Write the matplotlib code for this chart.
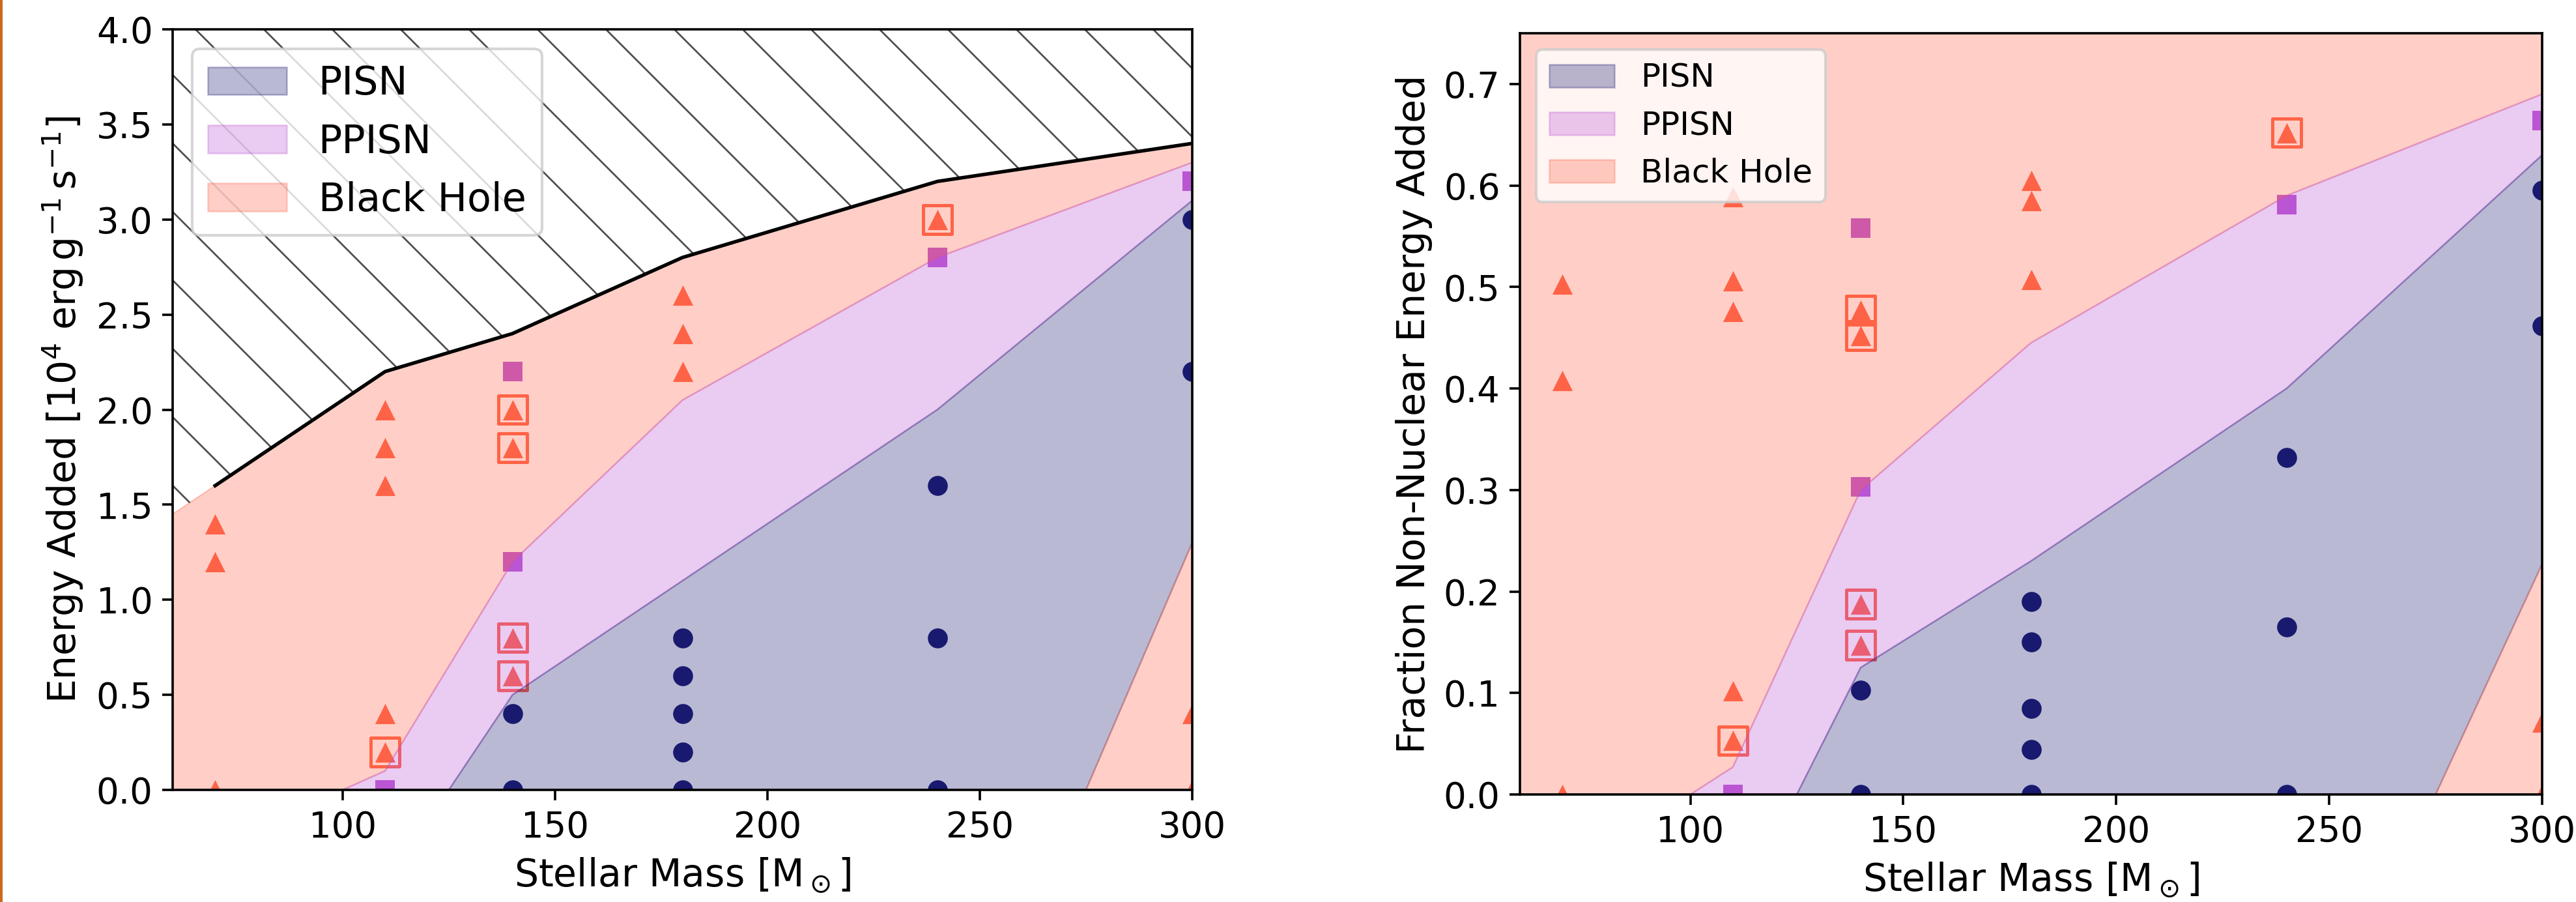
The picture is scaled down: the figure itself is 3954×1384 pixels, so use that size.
"""Energy-injection outcome map: PISN / PPISN / black hole regions."""

import matplotlib

matplotlib.use("Agg")
import matplotlib.pyplot as plt
from matplotlib.collections import LineCollection
from matplotlib.patches import Polygon, Rectangle
from matplotlib.ticker import MultipleLocator

# ---------------------------------------------------------------- data
# left panel: energy added [1e4 erg g^-1 s^-1]
bh_mass_e = [70, 70, 70, 110, 110, 110, 110, 110, 140, 140, 140, 140,
             180, 180, 180, 240, 300, 300]
bh_energy = [0.0, 1.2, 1.4, 0.2, 0.4, 1.6, 1.8, 2.0, 0.6, 0.8, 1.8, 2.0,
             2.2, 2.4, 2.6, 3.0, 0.0, 0.4]
ppisn_mass_e = [110, 140, 140, 240, 300]
ppisn_energy = [0.0, 1.2, 2.2, 2.8, 3.2]
pisn_mass_e = [140, 140, 180, 180, 180, 180, 180, 240, 240, 240, 300, 300]
pisn_energy = [0.0, 0.4, 0.0, 0.2, 0.4, 0.6, 0.8, 0.0, 0.8, 1.6, 2.2, 3.0]
boxed_mass_e = [110, 140, 140, 140, 140, 240]
boxed_energy = [0.2, 0.6, 0.8, 1.8, 2.0, 3.0]

# left panel region boundaries
limit_mass_e = [60, 70, 110, 140, 180, 240, 300]
limit_energy = [1.45, 1.6, 2.2, 2.4, 2.8, 3.2, 3.4]
ppisn_top_mass_e = [100, 110, 140, 180, 240, 300]
ppisn_top_energy = [0.0, 0.1, 1.2, 2.05, 2.8, 3.3]
pisn_top_mass_e = [125, 140, 180, 240, 300]
pisn_top_energy = [0.0, 0.5, 1.1, 2.0, 3.1]
pisn_edge_mass_e = [275, 300]
pisn_edge_energy = [0.0, 1.3]

# right panel: fraction of non-nuclear energy added
bh_mass_f = [70, 70, 70, 110, 110, 110, 110, 110, 140, 140, 140, 140,
             180, 180, 180, 240, 300, 300]
bh_frac = [0.0, 0.408, 0.503, 0.053, 0.102, 0.476, 0.506, 0.589, 0.147, 0.1875,
           0.452, 0.477, 0.507, 0.585, 0.605, 0.652, 0.0, 0.071]
ppisn_mass_f = [110, 140, 140, 240, 300]
ppisn_frac = [0.0, 0.303, 0.558, 0.581, 0.664]
pisn_mass_f = [140, 140, 180, 180, 180, 180, 180, 240, 240, 240, 300, 300]
pisn_frac = [0.0, 0.103, 0.0, 0.044, 0.085, 0.150, 0.190, 0.0, 0.165, 0.332,
             0.462, 0.595]
boxed_mass_f = [110, 140, 140, 140, 140, 240]
boxed_frac = [0.053, 0.147, 0.1875, 0.452, 0.477, 0.652]

# right panel region boundaries
limit_mass_f = [60, 300]
limit_frac = [1.0, 1.0]
ppisn_top_mass_f = [100, 110, 140, 180, 240, 300]
ppisn_top_frac = [0.0, 0.027, 0.30, 0.445, 0.59, 0.69]
pisn_top_mass_f = [125, 140, 180, 240, 300]
pisn_top_frac = [0.0, 0.125, 0.23, 0.40, 0.63]
pisn_edge_mass_f = [275, 300]
pisn_edge_frac = [0.0, 0.227]

# ---------------------------------------------------------------- style
DPI = 300
FIG_W, FIG_H = 3954 / DPI, 1384 / DPI
C_BH = "tomato"
C_PPISN = "mediumorchid"
C_PISN = "midnightblue"
TICK_FS = 13.1
LABEL_FS = 14.0

plt.rcParams.update({
    "font.family": "DejaVu Sans",
    "axes.linewidth": 0.87,
    "xtick.major.size": 3.8,
    "ytick.major.size": 3.8,
    "xtick.major.width": 0.87,
    "ytick.major.width": 0.87,
    "xtick.labelsize": TICK_FS,
    "ytick.labelsize": TICK_FS,
})


def draw_panel(ax, pts, bounds, legend_fs):
    bh_x, bh_y, pp_x, pp_y, pi_x, pi_y, bx_x, bx_y = pts
    lim_x, lim_y, ppt_x, ppt_y, pit_x, pit_y, pie_x, pie_y = bounds

    # markers first so the translucent regions tint them
    ax.scatter(bh_x, bh_y, marker="^", s=56, color=C_BH, linewidths=0)
    ax.scatter(pp_x, pp_y, marker="s", s=50, color=C_PPISN, linewidths=0)
    ax.scatter(pi_x, pi_y, marker="o", s=54, color=C_PISN, linewidths=0)
    ax.scatter(bx_x, bx_y, marker="s", s=110, facecolors="none",
               edgecolors=C_BH, linewidths=1.2)

    # black-hole region: between upper limit and PPISN boundary
    bh_xs = list(lim_x) + ppt_x[::-1] + [lim_x[0]]
    bh_ys = list(lim_y) + ppt_y[::-1] + [0.0]
    pp_xs = ppt_x + pit_x[::-1]
    pp_ys = ppt_y + pit_y[::-1]
    pi_xs = pit_x + pie_x[::-1]
    pi_ys = pit_y + pie_y[::-1]
    low_xs = pie_x + [pie_x[-1]]
    low_ys = pie_y + [0.0]

    kw = dict(alpha=0.3, linewidth=0.6)
    (bh_poly,) = ax.fill(bh_xs, bh_ys, color=C_BH, label="Black Hole", **kw)
    (pp_poly,) = ax.fill(pp_xs, pp_ys, color=C_PPISN, label="PPISN", **kw)
    (pi_poly,) = ax.fill(pi_xs, pi_ys, color=C_PISN, label="PISN", **kw)
    ax.fill(low_xs, low_ys, color=C_BH, **kw)

    ax.set_xlim(60, 300)
    ax.xaxis.set_major_locator(MultipleLocator(50))
    ax.set_xlabel(r"Stellar Mass [M$_\odot$]", fontsize=LABEL_FS)
    ax.legend(handles=[pi_poly, pp_poly, bh_poly], loc="upper left",
              fontsize=legend_fs)


def add_hatch(ax, xs, ys, ytop, width_px, height_px):
    """Diagonal hatch above the energy limit, drawn as clipped lines."""
    verts = list(zip(xs, ys)) + [(xs[-1], ytop), (xs[0], ytop)]
    patch = Polygon(verts, closed=True, facecolor="none", edgecolor="none")
    ax.add_patch(patch)
    spacing, phase = 105.0, 35.0
    segs = []
    k = -int(height_px / spacing) - 2
    while phase + k * spacing < width_px + spacing:
        x0 = phase + k * spacing
        segs.append([(x0 / width_px, 1.0), ((x0 + height_px) / width_px, 0.0)])
        k += 1
    lc = LineCollection(segs, colors="0.3", linewidths=0.65,
                        transform=ax.transAxes)
    ax.add_collection(lc)
    lc.set_clip_path(patch)


fig = plt.figure(figsize=(FIG_W, FIG_H), dpi=DPI)
left_pos = [265 / 3954, 172 / 1384, 1565 / 3954, 1167 / 1384]
right_pos = [2333 / 3954, 165 / 1384, 1569 / 3954, 1168 / 1384]
ax1 = fig.add_axes(left_pos)
ax2 = fig.add_axes(right_pos)

draw_panel(
    ax1,
    (bh_mass_e, bh_energy, ppisn_mass_e, ppisn_energy,
     pisn_mass_e, pisn_energy, boxed_mass_e, boxed_energy),
    (limit_mass_e, limit_energy, ppisn_top_mass_e, ppisn_top_energy,
     pisn_top_mass_e, pisn_top_energy, pisn_edge_mass_e, pisn_edge_energy),
    legend_fs=14.5,
)
add_hatch(ax1, limit_mass_e, limit_energy, 4.0,
          left_pos[2] * FIG_W * DPI, left_pos[3] * FIG_H * DPI)
ax1.plot(limit_mass_e[1:], limit_energy[1:], color="black", linewidth=1.3)
ax1.set_ylim(0, 4.0)
ax1.yaxis.set_major_locator(MultipleLocator(0.5))
ax1.set_ylabel(r"Energy Added [$10^4$ erg$\,$g$^{-1}\,$s$^{-1}$]",
               fontsize=LABEL_FS)

draw_panel(
    ax2,
    (bh_mass_f, bh_frac, ppisn_mass_f, ppisn_frac,
     pisn_mass_f, pisn_frac, boxed_mass_f, boxed_frac),
    (limit_mass_f, limit_frac, ppisn_top_mass_f, ppisn_top_frac,
     pisn_top_mass_f, pisn_top_frac, pisn_edge_mass_f, pisn_edge_frac),
    legend_fs=12.0,
)
ax2.set_ylim(0, 0.75)
ax2.yaxis.set_major_locator(MultipleLocator(0.1))
ax2.set_ylabel("Fraction Non-Nuclear Energy Added", fontsize=LABEL_FS)

# thin orange frame edge on the left of the slide crop
fig.add_artist(Rectangle((0, 0), 4 / 3954, 1, transform=fig.transFigure,
                         color="#CC6A1A", linewidth=0))

fig.savefig("out.png", dpi=DPI)
plt.close(fig)
